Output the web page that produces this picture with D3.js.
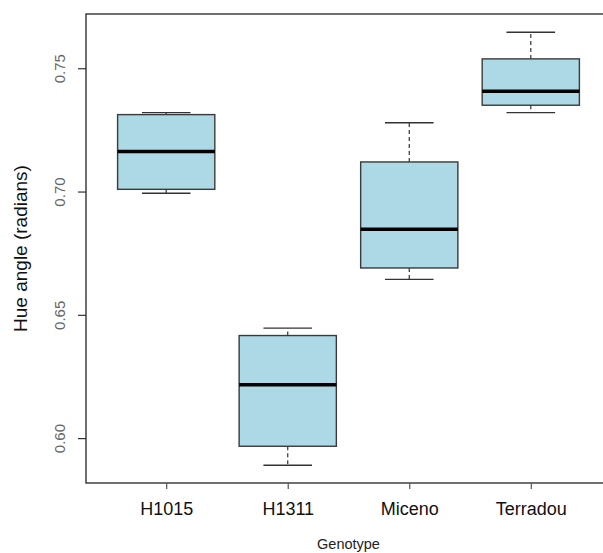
<!DOCTYPE html>
<html>
<head>
<meta charset="utf-8">
<script src="https://cdn.jsdelivr.net/npm/d3@7"></script>
<style>
  html, body { margin: 0; padding: 0; background: #fff; }
  svg { display: block; }
</style>
</head>
<body>
<svg id="chart" width="603" height="553"></svg>
<script>
const categories = ["H1015", "H1311", "Miceno", "Terradou"];
const whiskerLow  = [0.6993, 0.5890, 0.6644, 0.7320];
const q1          = [0.7009, 0.5967, 0.6690, 0.7350];
const medians     = [0.7162, 0.6216, 0.6847, 0.7407];
const q3          = [0.7312, 0.6416, 0.7120, 0.7538];
const whiskerHigh = [0.7320, 0.6446, 0.7279, 0.7646];
const yTicks      = [0.60, 0.65, 0.70, 0.75];
const yTickLabels = ["0.60", "0.65", "0.70", "0.75"];

(function () {
const svg = d3.select("#chart");
const mLeft = 86, mRight = 611, mTop = 14, mBottom = 483;

const y = d3.scaleLinear().domain([0.5818, 0.7720]).range([mBottom, mTop]);
const x = d3.scaleLinear().domain([0.34, 4.66]).range([mLeft, mRight]);
const unit = x(2) - x(1);
const boxW = 0.8 * unit, capW = 0.4 * unit;

const data = categories.map((c, i) => ({
  c, pos: i + 1, lo: whiskerLow[i], q1: q1[i], med: medians[i], q3: q3[i], hi: whiskerHigh[i]
}));

const g = svg.append("g");
data.forEach(d => {
  const cx = x(d.pos);
  g.append("line").attr("x1", cx).attr("x2", cx).attr("y1", y(d.q3)).attr("y2", y(d.hi))
    .attr("stroke", "#333").attr("stroke-width", 1.2).attr("stroke-dasharray", "4,3");
  g.append("line").attr("x1", cx).attr("x2", cx).attr("y1", y(d.q1)).attr("y2", y(d.lo))
    .attr("stroke", "#333").attr("stroke-width", 1.2).attr("stroke-dasharray", "4,3");
  g.append("line").attr("x1", cx - capW / 2).attr("x2", cx + capW / 2).attr("y1", y(d.hi)).attr("y2", y(d.hi))
    .attr("stroke", "#333").attr("stroke-width", 1.3);
  g.append("line").attr("x1", cx - capW / 2).attr("x2", cx + capW / 2).attr("y1", y(d.lo)).attr("y2", y(d.lo))
    .attr("stroke", "#333").attr("stroke-width", 1.3);
  g.append("rect").attr("x", cx - boxW / 2).attr("y", y(d.q3))
    .attr("width", boxW).attr("height", y(d.q1) - y(d.q3))
    .attr("fill", "#add8e6").attr("stroke", "#3a3a3a").attr("stroke-width", 1.4);
  g.append("line").attr("x1", cx - boxW / 2).attr("x2", cx + boxW / 2).attr("y1", y(d.med)).attr("y2", y(d.med))
    .attr("stroke", "#000").attr("stroke-width", 3.5);
});

svg.append("rect").attr("x", mLeft).attr("y", mTop).attr("width", mRight - mLeft).attr("height", mBottom - mTop)
  .attr("fill", "none").attr("stroke", "#222").attr("stroke-width", 1.3);

const yAxis = d3.axisLeft(y).tickValues(yTicks).tickFormat((d, i) => yTickLabels[i]).tickSize(8).tickPadding(0);
const ya = svg.append("g").attr("transform", `translate(${mLeft},0)`).call(yAxis);
ya.select(".domain").remove();
ya.selectAll(".tick line").attr("stroke", "#333").attr("stroke-width", 1.2);
ya.selectAll(".tick text")
  .attr("x", 0).attr("dy", null).attr("y", 0)
  .attr("transform", "translate(-21,0) rotate(-90)")
  .attr("text-anchor", "middle")
  .attr("font-family", "Liberation Sans, Arial, sans-serif")
  .attr("font-size", 15).attr("fill", "#666");

const xAxis = d3.axisBottom(x).tickValues(data.map(d => d.pos)).tickFormat((d, i) => categories[i]).tickSize(6).tickPadding(0);
const xa = svg.append("g").attr("transform", `translate(0,${mBottom})`).call(xAxis);
xa.select(".domain").remove();
xa.selectAll(".tick line").attr("stroke", "#555").attr("stroke-width", 1.2);
xa.selectAll(".tick text").attr("y", 32).attr("dy", null)
  .attr("font-family", "Liberation Sans, Arial, sans-serif")
  .attr("font-size", 18).attr("fill", "#111");

svg.append("text").attr("transform", `translate(27,${(mTop + mBottom) / 2}) rotate(-90)`)
  .attr("text-anchor", "middle").attr("font-family", "Liberation Sans, Arial, sans-serif")
  .attr("font-size", 19).attr("fill", "#111").text("Hue angle (radians)");
svg.append("text").attr("x", (mLeft + mRight) / 2).attr("y", 549)
  .attr("text-anchor", "middle").attr("font-family", "Liberation Sans, Arial, sans-serif")
  .attr("font-size", 14.5).attr("fill", "#222").text("Genotype");
})();
</script>
</body>
</html>
